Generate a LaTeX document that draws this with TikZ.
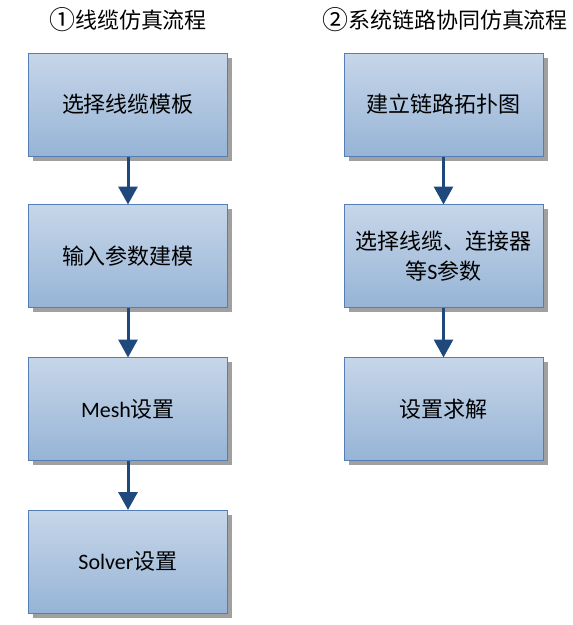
\documentclass[tikz,border=0pt]{standalone}
\usepackage{fontspec}
\setmainfont{Noto Sans CJK SC}
\newfontfamily\carl{Carlito}
\usetikzlibrary{arrows.meta,shadows}
\definecolor{boxtop}{RGB}{199,214,233}
\definecolor{boxbot}{RGB}{150,180,214}
\definecolor{boxline}{RGB}{84,126,180}
\definecolor{arrowc}{RGB}{31,73,125}
\definecolor{shadowc}{RGB}{160,160,160}
\newcommand{\bignum}[1]{{\fontsize{26pt}{24pt}\selectfont\raisebox{-1.5pt}{#1}}}
\tikzset{
  stepbox/.style={rectangle, minimum width=199pt, minimum height=103pt,
    top color=boxtop, bottom color=boxbot, draw=boxline, line width=1pt,
    drop shadow={shadow xshift=4.5pt, shadow yshift=-4.5pt, fill=shadowc, opacity=1},
    font=\fontsize{22pt}{30pt}\selectfont, align=center, inner sep=0pt},
  titletext/.style={font=\fontsize{22pt}{24pt}\selectfont, inner sep=0pt},
  flow/.style={draw=arrowc, line width=3pt, -{Triangle[width=19pt,length=18pt]}, shorten >=-0.5pt}
}
\begin{document}
\begin{tikzpicture}[x=1pt,y=1pt]
\useasboundingbox (0,0) rectangle (573,-625);
\node[titletext] (t1) at (128,-20) {\bignum{①}线缆仿真流程};
\node[titletext] (t2) at (445,-20) {\bignum{②}系统链路协同仿真流程};
\node[stepbox] (a1) at (128,-104.5) {选择线缆模板};
\node[stepbox] (a2) at (128,-256) {输入参数建模};
\node[stepbox] (a3) at (128,-409) {{\carl Mesh}设置};
\node[stepbox] (a4) at (128,-561.5) {{\carl Solver}设置};
\node[stepbox] (b1) at (443.5,-104.5) {建立链路拓扑图};
\node[stepbox] (b2) at (443.5,-256) {选择线缆、连接器\\等{\carl S}参数};
\node[stepbox] (b3) at (443.5,-409) {设置求解};
\draw[flow] (a1) -- (a2);
\draw[flow] (a2) -- (a3);
\draw[flow] (a3) -- (a4);
\draw[flow] (b1) -- (b2);
\draw[flow] (b2) -- (b3);
\end{tikzpicture}
\end{document}
